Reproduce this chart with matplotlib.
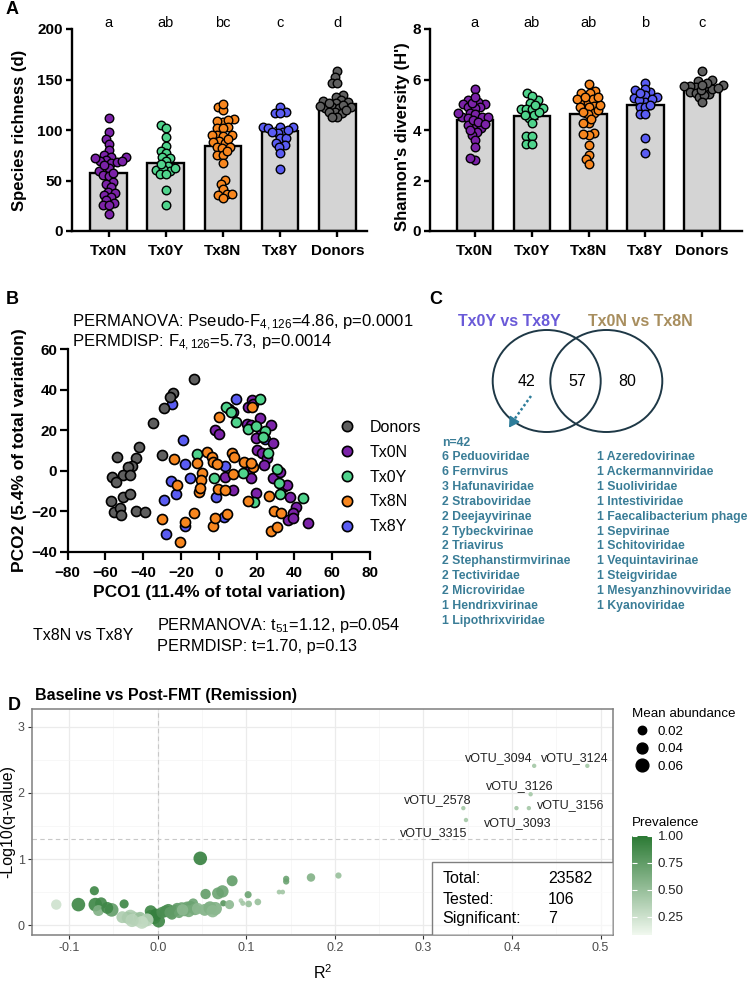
import numpy as np
import matplotlib
matplotlib.use("Agg")
import matplotlib.pyplot as plt
from matplotlib.patches import Ellipse, Rectangle
from matplotlib.lines import Line2D
from matplotlib.colors import LinearSegmentedColormap, Normalize
from matplotlib.cm import ScalarMappable

plt.rcParams['font.family'] = ['Liberation Sans', 'DejaVu Sans']
plt.rcParams['mathtext.fontset'] = 'custom'
plt.rcParams['mathtext.rm'] = 'Liberation Sans'
plt.rcParams['mathtext.it'] = 'Liberation Sans:italic'
plt.rcParams['mathtext.bf'] = 'Liberation Sans:bold'

# ---------------- data: panel A ----------------
groups = ['Tx0N', 'Tx0Y', 'Tx8N', 'Tx8Y', 'Donors']
group_colors = ['#7B22A8', '#4FD38C', '#F7861E', '#5A5CF2', '#5F5F5F']

rich_mean = [57, 67, 84, 99, 126]
rich_sem = [4.0, 4.5, 4.2, 3.5, 2.2]
rich_letters = ['a', 'ab', 'bc', 'c', 'd']
rich_tx0n = [111.5, 98, 91, 86, 80, 73, 75, 73, 70, 67, 69, 68, 69, 62, 59, 55, 54,
             49, 47, 44, 39, 38, 36, 34, 31, 28, 26, 26, 16.5, 72, 65, 57]
rich_tx0y = [105, 102, 93, 84, 79, 77, 72, 73, 69, 64, 60, 59, 61, 62, 56, 56, 41, 26, 66]
rich_tx8n = [123, 120, 126, 110.5, 108, 109, 110, 102, 103, 102, 95, 94, 95, 95, 89,
             88, 87, 91, 83.5, 82, 83.5, 75, 75, 67, 50.5, 47, 42, 37, 37, 36, 33, 79]
rich_tx8y = [123, 118, 117, 117, 103, 103, 102, 103, 98, 97, 98, 92, 92, 85, 87, 83,
             77.5, 61, 100]
rich_don = [158, 152, 147, 147, 135, 133, 130, 127, 129, 128, 123, 122, 124, 123, 122,
            118, 116.5, 118, 113, 113, 127, 125, 120]

shan_mean = [4.4, 4.55, 4.65, 5.0, 5.65]
shan_sem = [0.11, 0.13, 0.13, 0.15, 0.06]
shan_letters = ['a', 'ab', 'ab', 'b', 'c']
shan_tx0n = [5.61, 5.03, 5.19, 5.12, 5.03, 4.9, 4.9, 4.86, 4.69, 4.63, 4.53, 4.46, 4.5,
             4.16, 4.2, 4.07, 3.93, 3.80, 3.6, 3.31, 2.81, 2.88, 4.40, 4.33, 4.66, 4.53,
             5.06, 5.32, 4.0, 4.25]
shan_tx0y = [5.48, 5.19, 5.35, 5.08, 4.82, 4.86, 4.82, 4.82, 4.46, 4.59, 4.59, 4.26,
             3.76, 3.76, 3.45, 3.45, 4.7, 5.0]
shan_tx8n = [5.82, 5.45, 5.56, 5.45, 5.12, 5.21, 5.12, 5.21, 4.9, 4.95, 4.9, 4.66, 4.63,
             4.26, 4.29, 3.87, 3.80, 3.84, 3.41, 3.01, 2.84, 2.65, 5.32, 4.73, 4.79, 5.0,
             5.3, 4.45]
shan_tx8y = [5.87, 5.58, 5.52, 5.61, 5.29, 5.39, 5.25, 5.12, 5.19, 5.21, 4.9, 4.9, 4.62,
             4.62, 3.67, 3.1, 5.0, 5.45]
shan_don = [6.34, 5.98, 5.95, 5.65, 5.72, 5.74, 5.74, 5.52, 5.43, 5.48, 5.29, 5.39, 5.12,
            5.61, 5.78, 5.58, 5.87, 5.68, 5.8]

# ---------------- data: panel B (PCO) ----------------
pco_groups = ['Donors', 'Tx0N', 'Tx0Y', 'Tx8N', 'Tx8Y']
pco_colors = ['#5F5F5F', '#7B22A8', '#4FD38C', '#F7861E', '#5A5CF2']
don_x = [-13.2, -24.1, -25.9, -28.9, -35.0, -42.1, -43.8, -46.1, -47.9, -53.7, -56.7, -50.9,
         -47.0, -54.4, -50.9, -47.0, -57.2, -55.5, -52.3, -52.0, -43.8, -39.1, -29.9]
don_y = [45.3, 38.6, 36.3, 30.8, 23.8, 11.6, 6.1, 2.3, 1.7, 7.0, -2.9, -2.1,
         -2.1, -5.4, -12.8, -11.5, -15.1, -20.2, -18.6, -21.9, -19.7, -20.6, 7.8]
t8y_x = [9.1, -25.0, -18.8, -17.9, -15.3, 3.2, -25.3, -22.9, -28.9, -1.5, -17.9, -28.0, 2.9, 24.4]
t8y_y = [35.3, 33.0, 15.2, 3.3, -3.4, 2.3, -4.9, -11.7, -14.5, -12.8, -27.3, -31.3, -23.0, 15.5]
t0y_x = [3.8, 6.5, 21.8, 9.1, 15.6, 19.6, 24.4, -11.7, -2.4, 12.9, 30.9, 32.0, 32.3, 44.7,
         18.8, 25.8, 23.5]
t0y_y = [31.7, 29.0, 35.3, 24.2, 20.5, 22.1, 19.8, 8.3, -3.8, -1.0, 0.7, -6.2, -11.5, -13.6,
         -15.3, 8.6, 16.5]
t0n_x = [5.5, 7.7, 15.6, 17.4, 21.8, 14.7, 27.4, 22.1, 28.5, 20.0, 22.6, 25.3, 24.0, -2.0,
         0.1, 16.1, 16.8, 3.2, 7.7, 19.6, 28.5, 32.3, 33.8, 35.9, 37.6, 40.8, 39.4, 36.8,
         39.4, 47.3, 19.6, 16.8, 18.0]
t0n_y = [30.3, 29.2, 31.7, 35.0, 25.9, 23.1, 22.6, 18.2, 13.5, 10.3, 9.0, 6.2, 2.8, 20.1,
         18.2, 0.0, -3.8, -2.9, -9.5, -10.8, -3.8, -0.8, -8.2, -7.1, -12.8, -17.8, -21.1,
         -24.4, -23.5, -25.7, 16.0, 22.6, 33.0]
t8n_x = [-23.7, -22.3, -30.3, -20.6, -17.9, -13.2, -11.4, -6.5, -8.7, -9.5, -10.5, -10.0,
         -3.8, -2.9, -1.2, 0.1, -0.3, -2.9, -2.0, 4.5, 3.2, 6.9, 8.0, 7.3, 13.3, 18.2, 16.8,
         15.6, 26.7, 29.2, 32.7, 27.4, 30.9, 17.7]
t8n_y = [5.6, -7.1, -24.0, -35.1, -25.2, -20.7, 4.0, 9.4, -1.3, -4.6, -10.3, -8.7,
         6.9, 4.5, 3.3, 26.7, -9.2, -27.3, -23.5, -21.4, -9.5, 8.9, 7.0, -1.8, 4.5, 2.0, 3.7,
         -14.8, -12.5, -19.9, -21.1, -29.6, -27.6, 31.7]

# ---------------- data: panel C (Venn) ----------------
venn_counts = [42, 57, 80]
venn_titles = ['Tx0Y vs Tx8Y', 'Tx0N vs Tx8N']
list_left = [(6, 'Peduoviridae'), (6, 'Fernvirus'), (3, 'Hafunaviridae'), (2, 'Straboviridae'),
             (2, 'Deejayvirinae'), (2, 'Tybeckvirinae'), (2, 'Triavirus'),
             (2, 'Stephanstirmvirinae'), (2, 'Tectiviridae'), (2, 'Microviridae'),
             (1, 'Hendrixvirinae'), (1, 'Lipothrixviridae')]
list_right = [(1, 'Azeredovirinae'), (1, 'Ackermannviridae'), (1, 'Suoliviridae'),
              (1, 'Intestiviridae'), (1, 'Faecalibacterium phage'), (1, 'Sepvirinae'),
              (1, 'Schitoviridae'), (1, 'Vequintavirinae'), (1, 'Steigviridae'),
              (1, 'Mesyanzhinovviridae'), (1, 'Kyanoviridae')]

# ---------------- data: panel D ----------------
d_r2 = [-0.1146, -0.0896, -0.0716, -0.0705, -0.064, -0.067, -0.052, -0.057, -0.038, -0.031,
        -0.027, -0.023, -0.016, -0.034, -0.025, -0.020, -0.008, -0.004, 0.001, -0.008, -0.002,
        0.009, 0.012, 0.016, 0.020, 0.022, 0.027, 0.030, 0.033, 0.037, 0.040, 0.035, 0.042,
        0.048, 0.054, 0.059, 0.065, 0.053, 0.068, 0.073, 0.074, 0.081, 0.084, 0.094, 0.096,
        0.102, 0.1026, 0.113, 0.137, 0.141, 0.145, 0.145, 0.173, 0.204,
        0.005, 0.014, 0.024, 0.028, 0.045, 0.062, -0.040, -0.012, -0.018, -0.029]
d_logq = [0.31, 0.31, 0.52, 0.31, 0.33, 0.22, 0.23, 0.26, 0.32, 0.13,
          0.10, 0.08, 0.06, 0.11, 0.13, 0.11, 0.21, 0.11, 0.06, 0.14, 0.16,
          0.21, 0.23, 0.16, 0.22, 0.25, 0.26, 0.22, 0.27, 0.28, 0.33, 0.21, 0.24,
          1.01, 0.47, 0.26, 0.25, 0.23, 0.48, 0.51, 0.33, 0.31, 0.67, 0.37, 0.33,
          0.46, 0.32, 0.35, 0.50, 0.50, 0.70, 0.66, 0.72, 0.75,
          0.19, 0.19, 0.18, 0.23, 0.25, 0.21, 0.12, 0.08, 0.04, 0.07]
d_prev = [0.25, 0.92, 0.92, 0.92, 0.90, 0.60, 0.75, 0.90, 0.92, 0.40,
          0.40, 0.35, 0.30, 0.45, 0.30, 0.50, 0.92, 0.92, 0.92, 0.92, 0.95,
          0.90, 0.85, 0.80, 0.80, 0.75, 0.70, 0.65, 0.70, 0.70, 0.70, 0.65, 0.65,
          0.95, 0.75, 0.65, 0.60, 0.60, 0.70, 0.70, 0.80, 0.55, 0.75, 0.40, 0.45,
          0.70, 0.50, 0.50, 0.45, 0.45, 0.70, 0.70, 0.60, 0.50,
          0.85, 0.75, 0.70, 0.55, 0.55, 0.55, 0.40, 0.35, 0.30, 0.35]
d_abund = [0.035, 0.07, 0.025, 0.07, 0.05, 0.04, 0.07, 0.05, 0.025, 0.07,
           0.07, 0.065, 0.06, 0.05, 0.005, 0.05, 0.05, 0.06, 0.06, 0.05, 0.05,
           0.05, 0.05, 0.035, 0.045, 0.045, 0.045, 0.045, 0.045, 0.045, 0.03, 0.05, 0.05,
           0.07, 0.035, 0.065, 0.065, 0.05, 0.05, 0.055, 0.008, 0.025, 0.04, 0.003, 0.004,
           0.012, 0.01, 0.01, 0.003, 0.003, 0.008, 0.008, 0.02, 0.008,
           0.045, 0.045, 0.03, 0.045, 0.045, 0.055, 0.05, 0.06, 0.06, 0.065]
sig_names = ['vOTU_3094', 'vOTU_3124', 'vOTU_3126', 'vOTU_3156', 'vOTU_3093', 'vOTU_2578', 'vOTU_3315']
sig_r2 = [0.425, 0.485, 0.421, 0.419, 0.405, 0.345, 0.348]
sig_logq = [2.41, 2.41, 1.98, 1.77, 1.77, 1.77, 1.59]
sig_prev = [0.40, 0.40, 0.40, 0.40, 0.40, 0.40, 0.40]
sig_abund = [0.002, 0.002, 0.002, 0.002, 0.002, 0.002, 0.002]
label_offsets = [(-2, 8, 'right'), (-13, 8, 'center'), (-11, 8, 'center'), (8, 3, 'left'),
                 (1, -15, 'center'), (-26, 8, 'center'), (-32, -13, 'center')]
stats_names = ['Total:', 'Tested:', 'Significant:']
stats_values = [23582, 106, 7]
size_legend = [0.02, 0.04, 0.06]

# ---------------- helpers ----------------
W, H = 750, 982
fig = plt.figure(figsize=(W / 100, H / 100), dpi=100)


def px_axes(l, t, r, b, **kw):
    return fig.add_axes([l / W, 1 - b / H, (r - l) / W, (b - t) / H], **kw)


def swarm(ax, vals, dia):
    vals = np.asarray(vals, float)
    p0 = ax.transData.transform((0, 0))
    p1 = ax.transData.transform((1, 1))
    sx, sy = p1[0] - p0[0], p1[1] - p0[1]
    ypx = vals * sy
    xs = np.zeros(len(vals))
    placed = []
    for i in np.argsort(ypx):
        y = ypx[i]
        bad = []
        for xj, yj in placed:
            dy = abs(y - yj)
            if dy < dia:
                w = np.sqrt(dia ** 2 - dy ** 2)
                bad.append((xj - w, xj + w))
        cands = [0.0] + [b[0] for b in bad] + [b[1] for b in bad]
        cands.sort(key=abs)
        x = 0.0
        for c in cands:
            if all(not (lo + 1e-6 < c < hi - 1e-6) for lo, hi in bad):
                x = c
                break
        placed.append((x, y))
        xs[i] = x / sx
    return xs


def bar_panel(ax, means, sems, data, xlim, ylim, yticks, ylabel, letters, lab_x, lab_y):
    x = np.arange(len(groups))
    ax.set_xlim(xlim)
    ax.set_ylim(ylim)
    ax.bar(x, means, width=0.64, color='#D4D4D4', edgecolor='black', linewidth=1.7, zorder=1)
    ax.errorbar(x, means, yerr=sems, fmt='none', ecolor='black', elinewidth=1.0,
                capsize=4, capthick=1.0, zorder=2)
    for i, vals in enumerate(data):
        off = swarm(ax, vals, 5.6)
        ax.scatter(i + off, vals, s=38, c=group_colors[i], edgecolors='black',
                   linewidths=1.0, zorder=3, clip_on=False)
    for i, l in enumerate(letters):
        ax.text(i, ylim[1] * 1.01, l, ha='center', va='baseline', fontsize=10.5, clip_on=False)
    ax.set_xticks(x)
    ax.set_xticklabels(groups, fontweight='bold', fontsize=11)
    ax.set_yticks(yticks)
    ax.set_yticklabels([str(t) for t in yticks], fontweight='bold', fontsize=11)
    for s in ['top', 'right']:
        ax.spines[s].set_visible(False)
    for s in ['left', 'bottom']:
        ax.spines[s].set_linewidth(1.7)
    ax.tick_params(axis='y', width=1.7, length=4.5, pad=2)
    ax.tick_params(axis='x', width=1.7, length=4.5, pad=5)
    ax.set_ylabel(ylabel, fontweight='bold', fontsize=12)
    ax.yaxis.set_label_coords(lab_x, lab_y)
    ax.set_facecolor('none')


# overlay axes in pixel units for annotations
ax_o = fig.add_axes([0, 0, 1, 1], zorder=-1)
ax_o.set_xlim(0, W)
ax_o.set_ylim(H, 0)
ax_o.axis('off')

# ---------------- panel A ----------------
axA1 = px_axes(72, 29, 367, 231)
bar_panel(axA1, rich_mean, rich_sem, [rich_tx0n, rich_tx0y, rich_tx8n, rich_tx8y, rich_don],
          (-0.64, 4.52), (0, 200), [0, 50, 100, 150, 200], 'Species richness (d)',
          rich_letters, -0.153, 0.5)
axA2 = px_axes(430, 29, 742, 231)
bar_panel(axA2, shan_mean, shan_sem, [shan_tx0n, shan_tx0y, shan_tx8n, shan_tx8y, shan_don],
          (-0.79, 4.7), (0, 8), [0, 2, 4, 6, 8], "Shannon's diversity (H')",
          shan_letters, -0.064, 0.465)

# ---------------- panel B ----------------
axB = px_axes(67.7, 349.3, 370, 551.7)
pco_data = {'Donors': (don_x, don_y), 'Tx0N': (t0n_x, t0n_y), 'Tx0Y': (t0y_x, t0y_y),
            'Tx8N': (t8n_x, t8n_y), 'Tx8Y': (t8y_x, t8y_y)}
draw_order = ['Tx8Y', 'Tx0N', 'Tx0Y', 'Tx8N', 'Donors']
for g in draw_order:
    gx, gy = pco_data[g]
    axB.scatter(gx, gy, s=52, c=pco_colors[pco_groups.index(g)], edgecolors='black',
                linewidths=1.2, zorder=3, clip_on=False)
axB.set_xlim(-80, 80)
axB.set_ylim(-40, 60)
axB.set_xticks(range(-80, 81, 20))
axB.set_yticks(range(-40, 61, 20))
for lab in axB.get_xticklabels() + axB.get_yticklabels():
    lab.set_fontweight('bold')
    lab.set_fontsize(11)
for s in ['top', 'right']:
    axB.spines[s].set_visible(False)
for s in ['left', 'bottom']:
    axB.spines[s].set_linewidth(1.6)
axB.tick_params(axis='y', width=1.6, length=5.5, pad=2)
axB.tick_params(axis='x', width=1.6, length=5.5, pad=4.5)
axB.set_xlabel('PCO1 (11.4% of total variation)', fontweight='bold', fontsize=12.5)
axB.set_ylabel('PCO2 (5.4% of total variation)', fontweight='bold', fontsize=12.5)
axB.xaxis.set_label_coords(0.5, -0.165)
axB.yaxis.set_label_coords(-0.135, 0.5)
axB.set_facecolor('none')
handles = [Line2D([], [], marker='o', linestyle='', markersize=7.4, markerfacecolor=c,
                  markeredgecolor='black', markeredgewidth=1.2) for c in pco_colors]
fig.legend(handles, pco_groups, loc='center left', bbox_to_anchor=(339 / W, 1 - 477 / H),
           frameon=False, fontsize=11.5, handlelength=1.0, handletextpad=0.9,
           labelspacing=0.62, borderpad=0, borderaxespad=0)

ax_o.text(72, 326.5, 'PERMANOVA: Pseudo-F$_{4,126}$=4.86, p=0.0001', fontsize=12, va='baseline')
ax_o.text(72, 347, 'PERMDISP: F$_{4,126}$=5.73, p=0.0014', fontsize=12, va='baseline')
ax_o.text(33, 640, 'Tx8N vs Tx8Y', fontsize=11.5, va='baseline')
ax_o.text(157, 630, 'PERMANOVA: t$_{51}$=1.12, p=0.054', fontsize=11.8, va='baseline')
ax_o.text(157, 650.5, 'PERMDISP: t=1.70, p=0.13', fontsize=11.8, va='baseline')

# ---------------- panel C ----------------
ax_o.add_patch(Ellipse((546.7, 381), 108, 102, fill=False, ec='#1E3846', lw=1.4))
ax_o.add_patch(Ellipse((606.3, 381), 112, 102, fill=False, ec='#1E3846', lw=1.4))
for cx, n in zip([527, 577, 627], venn_counts):
    ax_o.text(cx, 381, str(n), ha='center', va='center', fontsize=11.5)
ax_o.text(458, 326, venn_titles[0], color='#6A5AD8', fontweight='bold', fontsize=11.5, va='baseline')
ax_o.text(588, 326, venn_titles[1], color='#A88E5E', fontweight='bold', fontsize=11.5, va='baseline')
ax_o.plot([531, 511], [396, 424], linestyle=(0, (1, 1)), color='#2E7D9A', lw=1.8)
ax_o.annotate('', xy=(507.5, 430), xytext=(512, 423),
              arrowprops=dict(arrowstyle='-|>,head_length=0.6,head_width=0.35',
                              color='#2E7D9A', lw=1.2))
teal = '#3A7D97'
ax_o.text(442, 443.3, 'n=%d' % venn_counts[0], color=teal, fontweight='bold', fontsize=8.8, va='center')
for k, (n, name) in enumerate(list_left):
    ax_o.text(442, 457.3 + k * 14.85, '%d %s' % (n, name), color=teal, fontweight='bold',
              fontsize=8.8, va='center')
for k, (n, name) in enumerate(list_right):
    ax_o.text(596.7, 457.3 + k * 14.85, '%d %s' % (n, name), color=teal, fontweight='bold',
              fontsize=8.8, va='center')

# panel letters
for lab, (px, py) in zip('ABCD', [(12, 9), (12, 300), (436, 300), (14, 706)]):
    ax_o.text(px, py, lab, fontweight='bold', fontsize=13, ha='center', va='center')

# ---------------- panel D ----------------
axD = px_axes(32, 709, 613, 935)
cmap = LinearSegmentedColormap.from_list('prev', ['#F1F8EF', '#2B7A34'])
norm = Normalize(vmin=0.08, vmax=1.0)


def abund_px(a):
    return 2.5 + 42 * np.sqrt(np.asarray(a, float))


axD.scatter(d_r2, d_logq, s=(abund_px(d_abund) * 0.72) ** 2, c=d_prev, cmap=cmap, norm=norm,
            edgecolors='none', alpha=0.9, zorder=3)
axD.scatter(sig_r2, sig_logq, s=(abund_px(sig_abund) * 0.72) ** 2, c=sig_prev, cmap=cmap,
            norm=norm, edgecolors='none', zorder=3)
for name, xv, yv, (dx, dy, ha) in zip(sig_names, sig_r2, sig_logq, label_offsets):
    axD.annotate(name, (xv, yv), xytext=(dx, dy), textcoords='offset pixels', ha=ha,
                 va='center', fontsize=9, color='#222222', zorder=4)
axD.set_xlim(-0.142, 0.514)
axD.set_ylim(-0.15, 3.27)
axD.set_xticks([-0.1, 0.0, 0.1, 0.2, 0.3, 0.4, 0.5])
axD.set_xticklabels(['-0.1', '0.0', '0.1', '0.2', '0.3', '0.4', '0.5'])
axD.set_xticks([-0.05, 0.05, 0.15, 0.25, 0.35, 0.45], minor=True)
axD.set_yticks([0, 1, 2, 3])
axD.set_yticks([0.5, 1.5, 2.5], minor=True)
axD.grid(which='major', color='#EBEBEB', lw=0.9, zorder=0)
axD.grid(which='minor', color='#F4F4F4', lw=0.5, zorder=0)
axD.set_axisbelow(True)
axD.tick_params(which='major', length=2.8, width=0.8, color='#333333', labelcolor='#4D4D4D',
                labelsize=9, pad=2.5)
axD.tick_params(which='minor', length=0)
for s in axD.spines.values():
    s.set_color('#7F7F7F')
    s.set_linewidth(1.1)
axD.axvline(0, color='#C8C8C8', ls=(0, (4, 3)), lw=0.8, zorder=1)
axD.axhline(-np.log10(0.05), color='#C8C8C8', ls=(0, (4, 3)), lw=0.8, zorder=1)
axD.set_xlabel('R$^2$', fontsize=11.5)
axD.xaxis.set_label_coords(0.5, -0.125)
axD.set_ylabel('-Log10(q-value)', fontsize=11.5)
axD.yaxis.set_label_coords(-0.029, 0.5)
axD.text(0.005, 1.058, 'Baseline vs Post-FMT (Remission)', transform=axD.transAxes,
         fontweight='bold', fontsize=11.5, va='center', ha='left')
axD.add_patch(Rectangle((0.688, 0.0), 0.312, 0.323, transform=axD.transAxes, fc='white',
                        alpha=0.6, ec='none', zorder=4))
axD.add_patch(Rectangle((0.688, 0.0), 0.312, 0.323, transform=axD.transAxes, fill=False,
                        ec='#7F7F7F', lw=1.0, zorder=5))
for k, (nm, v) in enumerate(zip(stats_names, stats_values)):
    yy = [0.252, 0.159, 0.071][k]
    axD.text(0.706, yy, nm, transform=axD.transAxes, fontsize=11.5, va='center', zorder=6)
    axD.text(0.888, yy, str(v), transform=axD.transAxes, fontsize=11.5, va='center', zorder=6)

# size legend
size_handles = [Line2D([], [], marker='o', linestyle='', color='black',
                       markersize=abund_px(a) * 0.72) for a in size_legend]
fig.legend(size_handles, ['%.2f' % a for a in size_legend], title='Mean abundance',
           loc='upper left', bbox_to_anchor=(632 / W, 1 - 708 / H), frameon=False,
           fontsize=9.6, title_fontsize=9.6, alignment='left', handlelength=1.5,
           handletextpad=0.45, labelspacing=0.4, borderpad=0, borderaxespad=0)

# colour bar
ax_cb = px_axes(632, 836, 652, 935)
cb = fig.colorbar(ScalarMappable(norm=norm, cmap=cmap), cax=ax_cb)
cb.outline.set_visible(False)
cb.set_ticks([0.25, 0.5, 0.75, 1.0])
cb.set_ticklabels(['0.25', '0.50', '0.75', '1.00'])
ax_cb.tick_params(axis='y', direction='in', length=3.5, width=0.8, color='white',
                  left=True, right=True, labelleft=False, labelright=True,
                  labelsize=9.6, labelcolor='#222222', pad=4)
fig.text(632 / W, 1 - 823 / H, 'Prevalence', fontsize=9.6, va='center', ha='left')

fig.savefig('out.png', dpi=100)
